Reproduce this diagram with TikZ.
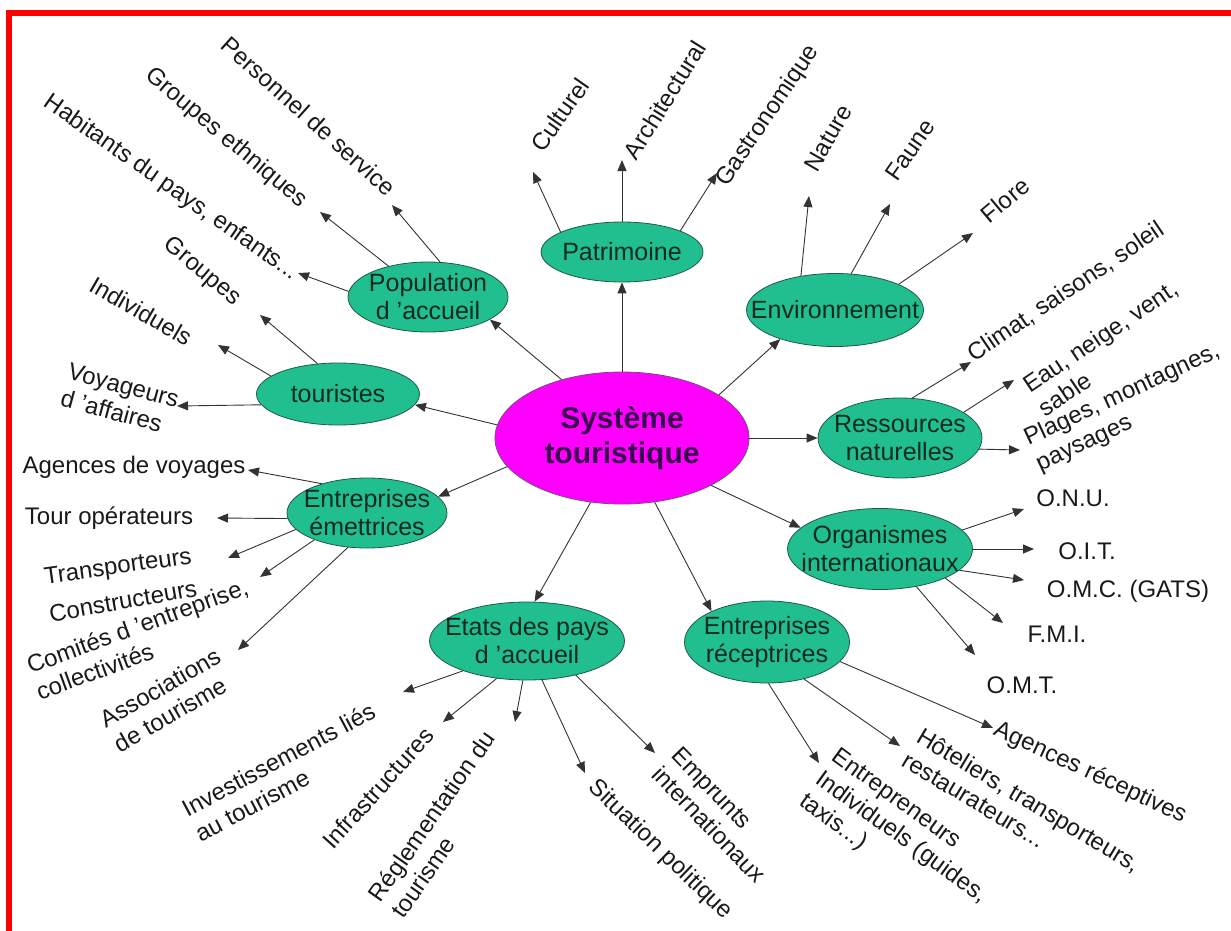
\documentclass[tikz,border=0pt]{standalone}
\usepackage{fontspec}
\setmainfont{Liberation Sans}
\usepackage{xcolor}
\definecolor{bubGreen}{HTML}{21BF8F}
\definecolor{bubEdge}{HTML}{1E5A45}
\definecolor{bubText}{HTML}{0C2A20}
\definecolor{hubPink}{HTML}{FF00FF}
\definecolor{hubText}{HTML}{3A0050}
\usepackage{tikz}
\usetikzlibrary{arrows.meta,shapes.geometric}

\begin{document}
\begin{tikzpicture}[x=1pt,y=-1pt,
  bub/.style={ellipse,draw=bubEdge,line width=0.8pt,fill=bubGreen,inner xsep=-40pt,inner ysep=-8pt,align=center,text=bubText,font=\fontsize{25}{28}\selectfont},
  hub/.style={ellipse,draw=hubText!70,line width=0.8pt,fill=hubPink,inner xsep=-40pt,inner ysep=-8pt,align=center,text=hubText,font=\fontsize{30}{35}\selectfont\bfseries},
  lbl/.style={inner sep=0pt,align=left,text=black!90,font=\fontsize{24}{28}\selectfont},
  arr/.style={-{Triangle[length=11pt,width=9pt]},line width=0.9pt,draw=black!80}
]
\useasboundingbox (0,0) rectangle (1231,931);
\draw[red,line width=6pt] (9,931) -- (9,13) -- (1231,13);

% centre and branches
\node[hub,minimum width=254pt,minimum height=132pt] (sys) at (622,438) {Système\\touristique};
\node[bub,minimum width=162pt,minimum height=60pt] (pat) at (622,252) {Patrimoine};
\node[bub,minimum width=160pt,minimum height=70pt] (pop) at (428,297) {Population\\d 'accueil};
\node[bub,minimum width=163pt,minimum height=62pt] (tour) at (338,394) {touristes};
\node[bub,minimum width=160pt,minimum height=70pt] (emet) at (367,513) {Entreprises\\émettrices};
\node[bub,minimum width=177pt,minimum height=73pt] (env) at (835,310) {Environnement};
\node[bub,minimum width=164pt,minimum height=80pt] (res) at (900,438) {Ressources\\naturelles};
\node[bub,minimum width=185pt,minimum height=81pt] (org) at (880,549) {Organismes\\internationaux};
\node[bub,minimum width=165pt,minimum height=82pt] (recep) at (767,642) {Entreprises\\réceptrices};
\node[bub,minimum width=195pt,minimum height=78pt] (etat) at (527,641) {Etats des pays\\d 'accueil};

\draw[arr] (sys.north)--(pat.south); \draw[arr] (sys.136)--(pop.340); \draw[arr] (sys.174)--(tour.352);
\draw[arr] (sys.194)--(emet.13); \draw[arr] (sys.244)--(etat.79); \draw[arr] (sys.297)--(recep.151);
\draw[arr] (sys.332)--(org.165); \draw[arr] (sys.east)--(res.west); \draw[arr] (sys.24)--(env.208);

% Patrimoine
\coordinate (tCul) at (533,172); \coordinate (tArc) at (622,160); \coordinate (tGas) at (717,173);
\node[lbl,rotate=55] (cul) at (560,115) {Culturel};
\node[lbl,rotate=58] (arc) at (665,100) {Architectural};
\node[lbl,rotate=56] (gas) at (768,116) {Gastronomique};
\draw[arr] (pat.162)--(tCul); \draw[arr] (pat.north)--(tArc); \draw[arr] (pat.20)--(tGas);

% Environnement
\coordinate (tNat) at (809,196); \coordinate (tFau) at (890,204); \coordinate (tFlo) at (973,233);
\node[lbl,rotate=60] (nat) at (828,138) {Nature};
\node[lbl,rotate=55] (fau) at (910,150) {Faune};
\node[lbl,rotate=40] (flo) at (1005,200) {Flore};
\draw[arr] (env.135)--(tNat); \draw[arr] (env.66)--(tFau); \draw[arr] (env.22)--(tFlo);

% Ressources naturelles
\coordinate (tCli) at (971,362); \coordinate (tEau) at (1014,380); \coordinate (tPla) at (1020,450);
\node[lbl,rotate=34] (cli) at (1066,292) {Climat, saisons, soleil};
\node[lbl,rotate=34] (eau) at (1108,348) {Eau, neige, vent,\\sable};
\node[lbl,rotate=25] (pla) at (1128,408) {Plages, montagnes,\\paysages};
\draw[arr] (res.73)--(tCli); \draw[arr] (res.22)--(tEau); \draw[arr] (res.352)--(tPla);

% Organismes internationaux
\coordinate (tOnu) at (1024,509); \coordinate (tOit) at (1034,549); \coordinate (tOmc) at (1024,580);
\coordinate (tFmi) at (1003,623); \coordinate (tOmt) at (975,655);
\node[lbl] (onu) at (1073,498) {O.N.U.};
\node[lbl] (oit) at (1087,551) {O.I.T.};
\node[lbl] (omc) at (1128,591) {O.M.C. (GATS)};
\node[lbl] (fmi) at (1057,634) {F.M.I.};
\node[lbl] (omt) at (1022,685) {O.M.T.};
\draw[arr] (org.13)--(tOnu); \draw[arr] (org.east)--(tOit); \draw[arr] (org.345)--(tOmc);
\draw[arr] (org.336)--(tFmi); \draw[arr] (org.314)--(tOmt);

% Entreprises receptrices
\coordinate (tAgr) at (993,728); \coordinate (tHot) at (900,746); \coordinate (tEnt) at (819,763);
\node[lbl,rotate=-25] (agr) at (1090,773) {Agences réceptives};
\node[lbl,rotate=-31] (hot) at (1022,812) {Hôteliers, transporteurs,\\restaurateurs...};
\node[lbl,rotate=-36] (ent) at (901,838) {Entrepreneurs\\Individuels (guides,\\taxis...)};
\draw[arr] (recep.345)--(tAgr); \draw[arr] (recep.315)--(tHot); \draw[arr] (recep.272)--(tEnt);

% Etats des pays d'accueil
\coordinate (tInv) at (403,692); \coordinate (tInf) at (443,722); \coordinate (tReg) at (515,722);
\coordinate (tSit) at (585,773); \coordinate (tEmp) at (655,753);
\node[lbl,rotate=28] (inv) at (285,772) {Investissements liés\\au tourisme};
\node[lbl,rotate=48] (inf) at (378,788) {Infrastructures};
\node[lbl,rotate=55] (reg) at (443,824) {Réglementation du\\tourisme};
\node[lbl,rotate=-44] (sit) at (660,850) {Situation politique};
\node[lbl,rotate=-46] (emp) at (719,815) {Emprunts\\internationaux};
\draw[arr] (etat.205)--(tInv); \draw[arr] (etat.231)--(tInf); \draw[arr] (etat.264)--(tReg);
\draw[arr] (etat.291)--(tSit); \draw[arr] (etat.325)--(tEmp);

% Entreprises emettrices
\coordinate (tAgv) at (248,470); \coordinate (tTop) at (217,518); \coordinate (tTra) at (228,558);
\coordinate (tCon) at (260,577); \coordinate (tAss) at (238,650);
\node[lbl] (agv) at (134,467) {Agences de voyages};
\node[lbl] (top) at (109,518) {Tour opérateurs};
\node[lbl,rotate=8] (tra) at (118,568) {Transporteurs};
\node[lbl,rotate=10] (con) at (123,601) {Constructeurs};
\node[lbl,rotate=20] (com) at (142,639) {Comités d 'entreprise,\\collectivités};
\node[lbl,rotate=30] (ass) at (167,700) {Associations\\de tourisme};
\draw[arr] (emet.147)--(tAgv); \draw[arr] (emet.184)--(tTop); \draw[arr] (emet.193)--(tTra);
\draw[arr] (emet.207)--(tCon); \draw[arr] (emet.241)--(tAss);

% touristes
\coordinate (tGro) at (260,315); \coordinate (tInd) at (218,345); \coordinate (tVoy) at (177,406);
\node[lbl,rotate=-40] (gro) at (202,272) {Groupes};
\node[lbl,rotate=-30] (ind) at (141,311) {Individuels};
\node[lbl,rotate=-15] (voy) at (120,399) {Voyageurs\\d 'affaires};
\draw[arr] (tour.124)--(tGro); \draw[arr] (tour.165)--(tInd); \draw[arr] (tour.188)--(tVoy);

% Population d'accueil
\coordinate (tPer) at (392,205); \coordinate (tEth) at (320,212); \coordinate (tHab) at (298,273);
\node[lbl,rotate=-42] (per) at (309,116) {Personnel de service};
\node[lbl,rotate=-40] (eth) at (226,138) {Groupes ethniques};
\node[lbl,rotate=-35] (hab) at (171,188) {Habitants du pays, enfants...};
\draw[arr] (pop.71)--(tPer); \draw[arr] (pop.142)--(tEth); \draw[arr] (pop.176)--(tHab);
\end{tikzpicture}
\end{document}
